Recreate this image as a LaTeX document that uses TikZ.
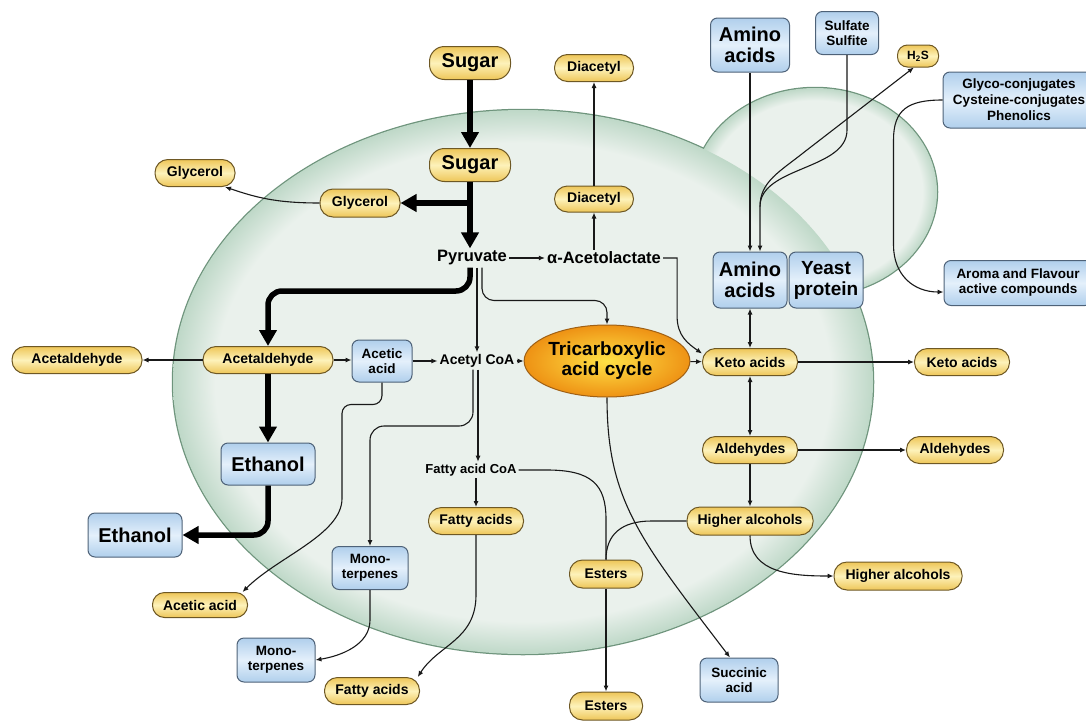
\documentclass[tikz,border=0pt]{standalone}
\usepackage{fontspec}
\setmainfont{Liberation Sans}
\usetikzlibrary{shapes,arrows.meta}
\definecolor{pillgold}{RGB}{238, 198, 88}
\definecolor{pilllight}{RGB}{253, 242, 186}
\definecolor{pillline}{RGB}{110, 88, 36}
\definecolor{boxblue}{RGB}{176, 207, 236}
\definecolor{boxlight}{RGB}{228, 240, 251}
\definecolor{boxline}{RGB}{78, 98, 120}
\definecolor{tcatop}{RGB}{255, 226, 70}
\definecolor{tcabottom}{RGB}{238, 146, 20}
\definecolor{tcaline}{RGB}{160, 96, 20}
\definecolor{cellcenter}{RGB}{234, 241, 236}
\definecolor{celledge}{RGB}{162, 200, 176}
\definecolor{cellline}{RGB}{110, 148, 124}
\definecolor{inkline}{RGB}{25, 25, 25}
\pgfdeclareradialshading{cellshade}{\pgfpoint{0bp}{0bp}}{color(0bp)=(cellcenter); color(22bp)=(cellcenter); color(27bp)=(celledge); color(50bp)=(celledge)}
\newcommand{\bigfont}{\fontsize{20}{21}\selectfont\bfseries}
\newcommand{\midfont}{\fontsize{16.5}{18}\selectfont\bfseries}
\newcommand{\pillfont}{\fontsize{14}{16}\selectfont\bfseries}
\newcommand{\boxfont}{\fontsize{13.5}{15}\selectfont\bfseries}

\begin{document}
\begin{tikzpicture}[x=1pt, y=-1pt,
    pill/.style={draw=pillline, line width=1pt, rounded corners=13pt, top color=pillgold, bottom color=pillgold, middle color=pilllight, inner sep=0pt, minimum height=27pt, font=\pillfont},
    bluebox/.style={draw=boxline, line width=1pt, rounded corners=7pt, top color=boxblue, bottom color=boxblue, middle color=boxlight, inner sep=0pt, align=center, font=\boxfont},
    lbl/.style={inner sep=2pt, font=\midfont},
    flow/.style={draw=inkline, line width=1.1pt, -{Latex[length=6pt,width=5pt]}},
    twoway/.style={draw=inkline, line width=1.1pt, {Latex[length=6pt,width=5pt]}-{Latex[length=6pt,width=5pt]}},
    link/.style={draw=inkline, line width=1.1pt},
    bigarrow/.style={draw=black, line width=5.5pt, -{Triangle[length=16pt,width=17pt]}}]
    \useasboundingbox (0,0) rectangle (1086,720);
    \clip (0,0) rectangle (1086,720);

    % the cell and its bud
    \draw[cellline, line width=2.5pt] (523,382) ellipse [x radius=350, y radius=272];
    \draw[cellline, line width=2.5pt] (815,192) ellipse [x radius=122, y radius=104];
    \shade[shading=cellshade] (815,192) ellipse [x radius=122, y radius=104];
    \shade[shading=cellshade] (523,382) ellipse [x radius=350, y radius=272];

    % nodes
    \node[pill, minimum width=81pt, minimum height=33pt, rounded corners=15pt, font=\bigfont] (sugarOut) at (470,63) {Sugar};
    \node[pill, minimum width=81pt, minimum height=33pt, rounded corners=15pt, font=\bigfont] (sugarIn) at (470,165) {Sugar};
    \node[pill, minimum width=80pt, minimum height=28pt] (glyIn) at (360,203) {Glycerol};
    \node[pill, minimum width=80pt] (glyOut) at (195,173) {Glycerol};
    \node[lbl] (pyr) at (472,258) {Pyruvate};
    \node[lbl] (acetol) at (604,258) {α-Acetolactate};
    \node[pill, minimum width=79pt, minimum height=26pt] (diaIn) at (594,199) {Diacetyl};
    \node[pill, minimum width=79pt] (diaOut) at (594,68) {Diacetyl};
    \node[bluebox, minimum width=79pt, minimum height=54pt, font=\bigfont] (aminoOut) at (750,45) {Amino\\acids};
    \node[bluebox, minimum width=63pt, minimum height=43pt] (sulf) at (847,33) {Sulfate\\Sulfite};
    \node[pill, minimum width=41pt, minimum height=22pt, rounded corners=10pt, font=\fontsize{12}{14}\selectfont\bfseries] (hts) at (918,56) {H\textsubscript{2}S};
    \node[bluebox, minimum width=152pt, minimum height=56pt, font=\fontsize{13.5}{16}\selectfont\bfseries] (glyco) at (1019,100) {Glyco-conjugates\\Cysteine-conjugates\\Phenolics};
    \node[bluebox, minimum width=74pt, minimum height=56pt, font=\bigfont] (aminoIn) at (750,280) {Amino\\acids};
    \node[bluebox, minimum width=74pt, minimum height=56pt, font=\fontsize{19}{21}\selectfont\bfseries] (yeast) at (826,280) {Yeast\\protein};
    \node[bluebox, minimum width=148pt, minimum height=45pt] (aroma) at (1018,283) {Aroma and Flavour\\active compounds};
    \node[pill, minimum width=95pt] (ketoIn) at (750,362) {Keto acids};
    \node[pill, minimum width=95pt] (ketoOut) at (962,362) {Keto acids};
    \node[draw=tcaline, line width=1pt, ellipse, inner color=tcatop, outer color=tcabottom, minimum width=145pt, minimum height=72pt, inner sep=0pt, align=center, font=\fontsize{19}{20}\selectfont\bfseries] (tca) at (607,361) {Tricarboxylic\\acid cycle};
    \node[lbl, font=\pillfont] (acoa) at (477,361) {Acetyl CoA};
    \node[bluebox, minimum width=60pt, minimum height=42pt] (acet) at (382,361) {Acetic\\acid};
    \node[pill, minimum width=130pt] (acdIn) at (268,360) {Acetaldehyde};
    \node[pill, minimum width=130pt] (acdOut) at (77,360) {Acetaldehyde};
    \node[bluebox, minimum width=94pt, minimum height=42pt, font=\bigfont] (ethIn) at (268,464) {Ethanol};
    \node[bluebox, minimum width=94pt, minimum height=44pt, font=\bigfont] (ethOut) at (135,535) {Ethanol};
    \node[pill, minimum width=95pt, minimum height=25pt, rounded corners=12pt] (aaOut) at (200,605) {Acetic acid};
    \node[bluebox, minimum width=76pt, minimum height=43pt] (monoIn) at (370,568) {Mono-\\terpenes};
    \node[bluebox, minimum width=78pt, minimum height=44pt] (monoOut) at (276,660) {Mono-\\terpenes};
    \node[lbl, font=\fontsize{13}{15}\selectfont\bfseries] (facoa) at (471,470) {Fatty acid CoA};
    \node[pill, minimum width=95pt] (faIn) at (476,521) {Fatty acids};
    \node[pill, minimum width=95pt] (faOut) at (372,691) {Fatty acids};
    \node[pill, minimum width=95pt] (aldIn) at (750,450) {Aldehydes};
    \node[pill, minimum width=97pt] (aldOut) at (955,450) {Aldehydes};
    \node[pill, minimum width=126pt, minimum height=28pt] (haIn) at (750,521) {Higher alcohols};
    \node[pill, minimum width=128pt, minimum height=28pt] (haOut) at (898,576) {Higher alcohols};
    \node[pill, minimum width=73pt, minimum height=28pt] (estIn) at (606,574) {Esters};
    \node[pill, minimum width=73pt, minimum height=28pt] (estOut) at (606,706) {Esters};
    \node[bluebox, minimum width=78pt, minimum height=44pt] (succ) at (739,680) {Succinic\\acid};

    % fermentation
    \draw[bigarrow] (sugarOut) -- (sugarIn);
    \draw[bigarrow] (sugarIn.south) -- (sugarIn.south |- pyr.north);
    \draw[bigarrow] ([xshift=2.5pt]sugarIn.south |- glyIn.east) -- (glyIn.east);
    \draw[bigarrow, rounded corners=14pt] ([xshift=-2pt]pyr.south) |- ([yshift=55pt]acdIn.north) -- (acdIn.north);
    \draw[bigarrow] (acdIn) -- (ethIn);
    \draw[bigarrow, rounded corners=14pt] (ethIn.south) |- (ethOut.east);

    % thin paths
    \draw[flow] (glyIn.west) .. controls +(-45,0) and +(30,10) .. (glyOut.-25);
    \draw[flow] (pyr) -- (acetol);
    \draw[flow] (diaIn.south |- acetol.north) -- (diaIn.south);
    \draw[flow] (diaIn) -- (diaOut);
    \draw[flow] (acetol.east) -- ++(14,0) -- ++(0,58) .. controls +(0,20) and +(-14,-10) .. (ketoIn.170);
    \draw[flow, rounded corners=12pt] ([xshift=10pt]pyr.south) |- ([yshift=24pt]tca.north) -- (tca.north);
    \draw[flow] (acoa.north |- pyr.south) -- (acoa.north);
    \draw[flow] (acdIn) -- (acdOut);
    \draw[flow] (acdIn.east) -- (acdIn.east -| acet.west);
    \draw[flow] (acet.east) -- (acet.east -| acoa.west);
    \draw[flow] (acoa) -- (tca);
    \draw[flow] (tca) -- (ketoIn);
    \draw[flow, rounded corners=9pt] (acet.south) |- ++(-40,22) -- ++(0,85) .. controls +(0,45) and +(35,-35) .. (aaOut.17);
    \draw[flow, rounded corners=14pt] ([xshift=-4pt]acoa.south) |- ([yshift=120pt]monoIn.north) -- (monoIn.north);
    \draw[flow] ([xshift=1pt]acoa.south) -- ([xshift=1pt]acoa.south |- facoa.north);
    \draw[flow] (faIn.north |- facoa.south) -- (faIn.north);
    \draw[flow] (faIn.south) -- ++(0,60) .. controls +(0,45) and +(20,-32) .. (faOut.17);
    \draw[flow] (monoIn.south) -- ++(0,30) .. controls +(0,25) and +(25,-4) .. (monoOut.east);
    \draw[link] (facoa.east) -- ++(28,0) .. controls +(45,0) and +(0,-35) .. ([yshift=40pt]estIn.north) -- (estIn.north);
    \draw[link] (haIn.west) -- ++(-35,0) .. controls +(-30,0) and +(0,-25) .. (estIn.north);
    \draw[flow] (estIn) -- (estOut);
    \draw[flow] (tca.south) .. controls +(0,103) and +(-90,-118) .. ([xshift=-9pt]succ.north);

    % amino acid side
    \draw[flow] (ketoIn) -- (ketoOut);
    \draw[twoway] (aminoIn) -- (ketoIn);
    \draw[twoway] (ketoIn) -- (aldIn);
    \draw[flow] (aldIn) -- (haIn);
    \draw[flow] (aldIn) -- (aldOut);
    \draw[flow] (haIn.south) .. controls +(0,38) and +(-40,0) .. (haOut.west);
    \draw[flow] (aminoOut) -- (aminoIn);
    \coordinate (sjoin) at ([xshift=10pt,yshift=45pt]aminoIn.north);
    \draw[flow] (sulf.south) -- ++(0,75) .. controls +(0,40) and +(0,-40) .. (sjoin) -- ([xshift=10pt]aminoIn.north);
    \draw[flow] (sjoin) .. controls +(0,-25) and +(-25,20) .. ++(45,-55) -- (hts.250);
    \draw[flow] (glyco.west) .. controls +(-35,0) and +(0,-30) .. ++(-49,40) -- ++(0,105) .. controls +(0,30) and +(-30,0) .. ([yshift=-9pt]aroma.west);
\end{tikzpicture}
\end{document}
